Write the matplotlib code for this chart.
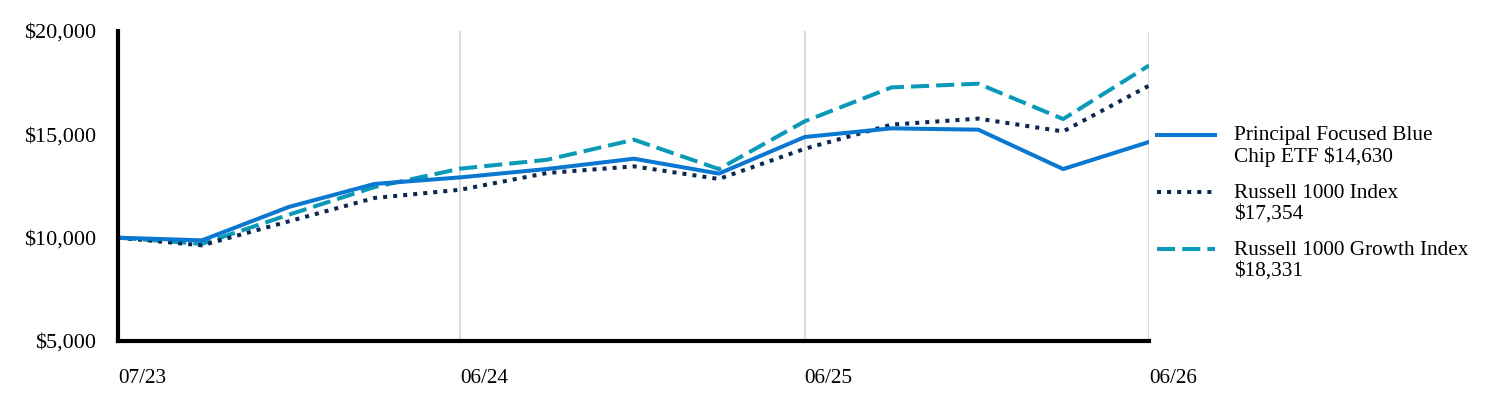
import matplotlib
matplotlib.use("Agg")
import matplotlib.pyplot as plt
from matplotlib.lines import Line2D
import pandas as pd

plt.rcParams['font.family'] = ['Liberation Serif', 'DejaVu Serif']

dates = ["2023-07-03", "2023-09-30", "2023-12-31", "2024-03-31", "2024-06-30",
         "2024-09-30", "2024-12-31", "2025-03-31", "2025-06-30",
         "2025-09-30", "2025-12-31", "2026-03-31", "2026-06-30"]
fund = [10000, 9870, 11485, 12600, 12917, 13324, 13820, 13100, 14870, 15290, 15225, 13320, 14630]
russell_1000 = [10000, 9630, 10790, 11920, 12320, 13130, 13450, 12840, 14300, 15470, 15760, 15140, 17354]
russell_growth = [10000, 9700, 11110, 12450, 13340, 13770, 14740, 13320, 15630, 17270, 17450, 15740, 18331]

series_labels = ["Principal Focused Blue\nChip ETF $14,630",
                 "Russell 1000 Index\n$17,354",
                 "Russell 1000 Growth Index\n$18,331"]
tick_dates = ["2023-07-03", "2024-06-30", "2025-06-30", "2026-06-30"]
tick_labels = ["07/23", "06/24", "06/25", "06/26"]
y_ticks = [5000, 10000, 15000, 20000]

x = pd.to_datetime(dates)
xt = pd.to_datetime(tick_dates)

W, H = 1512, 408
fig = plt.figure(figsize=(W / 100, H / 100), dpi=100)
ax = fig.add_axes([118 / W, 1 - 341 / H, (1149 - 118) / W, (341 - 31) / H])

c_fund = "#0A78D0"
c_r1000 = "#0B2850"
c_growth = "#0A9AB8"
lw = 2.9

styles = [
    dict(color=c_fund, lw=lw, ls='-'),
    dict(color=c_r1000, lw=lw, ls=(0, (1.0, 1.5))),
    dict(color=c_growth, lw=lw, ls=(0, (4.5, 1.75))),
]
ax.plot(x, russell_growth, **styles[2], zorder=3)
ax.plot(x, russell_1000, **styles[1], zorder=4)
ax.plot(x, fund, **styles[0], zorder=5)

ax.set_xlim(xt[0], xt[-1])
ax.set_ylim(5000, 20000)
ax.set_yticks(y_ticks)
ax.set_yticklabels([f"${v:,.0f}" for v in y_ticks], fontsize=16)
ax.set_xticks(xt)
ax.set_xticklabels(tick_labels, fontsize=15.3, ha='left')
ax.tick_params(axis='both', length=0)
ax.tick_params(axis='y', pad=15.5)
ax.tick_params(axis='x', pad=20)

for t in xt[1:]:
    ax.axvline(t, color="#DCDCDC", lw=1.4, zorder=1)

for s in ['top', 'right']:
    ax.spines[s].set_visible(False)
for s in ['left', 'bottom']:
    ax.spines[s].set_linewidth(3)
    ax.spines[s].set_color('black')
    ax.spines[s].set_zorder(6)

# legend (manual, handle aligned to first label line)
leg_y = [135, 192, 249]
for st, lab, yy in zip(styles, series_labels, leg_y):
    fig.add_artist(Line2D([1157 / W, 1215 / W], [1 - yy / H, 1 - yy / H],
                          transform=fig.transFigure, **st))
    fig.text(1234 / W, 1 - (yy + 11.5) / H, lab, fontsize=15.3,
             va='center', ha='left', linespacing=1.1)

fig.savefig("out.png", dpi=100)
